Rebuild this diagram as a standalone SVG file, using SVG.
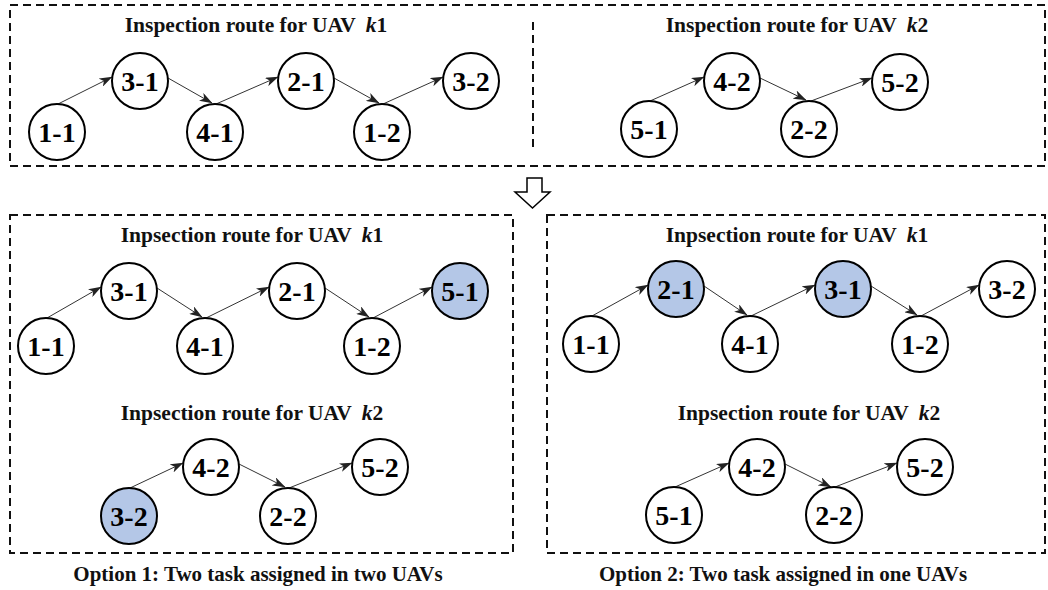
<svg xmlns="http://www.w3.org/2000/svg" width="1048" height="590" viewBox="0 0 1048 590">
<style>
.box{fill:none;stroke:#111;stroke-width:2;stroke-dasharray:8 5}
.nd{fill:#fff;stroke:#000;stroke-width:2}
.hl{fill:#b4c7e7;stroke:#000;stroke-width:2}
.lb{font-family:"Liberation Serif","Times New Roman",serif;font-weight:bold;font-size:28px;text-anchor:middle;fill:#000}
.tt{font-family:"Liberation Serif","Times New Roman",serif;font-weight:bold;font-size:21.5px;text-anchor:middle;fill:#111}
.cp{font-family:"Liberation Serif","Times New Roman",serif;font-weight:bold;font-size:21px;text-anchor:middle;fill:#111}
.ar{stroke:#333;stroke-width:1;fill:none;marker-end:url(#ah)}
.it{font-style:italic}
</style>
<defs>
<marker id="ah" viewBox="0 0 13 9" refX="12.5" refY="4.5" markerWidth="13" markerHeight="9" markerUnits="userSpaceOnUse" orient="auto">
<path d="M0,0 L13,4.5 L0,9 L3.5,4.5 z" fill="#222"/>
</marker>
</defs>
<rect width="1048" height="590" fill="#fff"/>
<g id="frames">
<rect class="box" x="10" y="5" width="1035" height="161"/>
<line class="box" x1="533" y1="22" x2="533" y2="152"/>
<rect class="box" x="10" y="215" width="503" height="338"/>
<rect class="box" x="547" y="215" width="498" height="338"/>
<polygon points="527,178 542,178 542,192 550,192 532.5,208 515,192 527,192" fill="#fff" stroke="#000" stroke-width="1.5"/>
</g>
<g id="titles">
<text class="tt" x="256" y="32">Inspection route for UAV <tspan dx="5" class="it">k</tspan>1</text>
<text class="tt" x="797" y="32">Inspection route for UAV <tspan dx="5" class="it">k</tspan>2</text>
<text class="tt" x="252" y="242">Inpsection route for UAV <tspan dx="5" class="it">k</tspan>1</text>
<text class="tt" x="252" y="420">Inpsection route for UAV <tspan dx="5" class="it">k</tspan>2</text>
<text class="tt" x="797" y="242">Inpsection route for UAV <tspan dx="5" class="it">k</tspan>1</text>
<text class="tt" x="809" y="420">Inpsection route for UAV <tspan dx="5" class="it">k</tspan>2</text>
<text class="cp" x="258" y="581">Option 1: Two task assigned in two UAVs</text>
<text class="cp" x="783" y="581">Option 2: Two task assigned in one UAVs</text>
</g>
<g id="connectors">
<line class="ar" x1="58" y1="104" x2="112" y2="77"/>
<line class="ar" x1="168" y1="78" x2="212" y2="103"/>
<line class="ar" x1="216" y1="104" x2="278" y2="77"/>
<line class="ar" x1="334" y1="78" x2="379" y2="103"/>
<line class="ar" x1="383" y1="104" x2="443" y2="77"/>
<line class="ar" x1="650" y1="101" x2="704" y2="77"/>
<line class="ar" x1="760" y1="78" x2="806" y2="100"/>
<line class="ar" x1="811" y1="101" x2="872" y2="78"/>
<line class="ar" x1="47" y1="318" x2="101" y2="287"/>
<line class="ar" x1="157" y1="288" x2="202" y2="317"/>
<line class="ar" x1="206" y1="318" x2="269" y2="287"/>
<line class="ar" x1="325" y1="288" x2="369" y2="317"/>
<line class="ar" x1="373" y1="318" x2="432" y2="287"/>
<line class="ar" x1="130" y1="488" x2="183" y2="463"/>
<line class="ar" x1="239" y1="464" x2="285" y2="487"/>
<line class="ar" x1="289" y1="488" x2="352" y2="463"/>
<line class="ar" x1="592" y1="316" x2="648" y2="285"/>
<line class="ar" x1="704" y1="286" x2="747" y2="315"/>
<line class="ar" x1="751" y1="316" x2="815" y2="285"/>
<line class="ar" x1="871" y1="286" x2="917" y2="315"/>
<line class="ar" x1="921" y1="316" x2="979" y2="285"/>
<line class="ar" x1="675" y1="487" x2="729" y2="463"/>
<line class="ar" x1="785" y1="464" x2="831" y2="487"/>
<line class="ar" x1="835" y1="487" x2="897" y2="463"/>
</g>
<g id="top-k1-1-1"><circle class="nd" cx="57" cy="132" r="28"/><text class="lb" x="57" y="142">1-1</text></g>
<g id="top-k1-3-1"><circle class="nd" cx="140" cy="81" r="28"/><text class="lb" x="140" y="91">3-1</text></g>
<g id="top-k1-4-1"><circle class="nd" cx="215" cy="132" r="28"/><text class="lb" x="215" y="142">4-1</text></g>
<g id="top-k1-2-1"><circle class="nd" cx="306" cy="81" r="28"/><text class="lb" x="306" y="91">2-1</text></g>
<g id="top-k1-1-2"><circle class="nd" cx="382" cy="132" r="28"/><text class="lb" x="382" y="142">1-2</text></g>
<g id="top-k1-3-2"><circle class="nd" cx="471" cy="81" r="28"/><text class="lb" x="471" y="91">3-2</text></g>
<g id="top-k2-5-1"><circle class="nd" cx="649" cy="129" r="28"/><text class="lb" x="649" y="139">5-1</text></g>
<g id="top-k2-4-2"><circle class="nd" cx="732" cy="81" r="28"/><text class="lb" x="732" y="91">4-2</text></g>
<g id="top-k2-2-2"><circle class="nd" cx="809" cy="129" r="28"/><text class="lb" x="809" y="139">2-2</text></g>
<g id="top-k2-5-2"><circle class="nd" cx="900" cy="82" r="28"/><text class="lb" x="900" y="92">5-2</text></g>
<g id="o1-k1-1-1"><circle class="nd" cx="46" cy="346" r="28"/><text class="lb" x="46" y="356">1-1</text></g>
<g id="o1-k1-3-1"><circle class="nd" cx="129" cy="291" r="28"/><text class="lb" x="129" y="301">3-1</text></g>
<g id="o1-k1-4-1"><circle class="nd" cx="205" cy="346" r="28"/><text class="lb" x="205" y="356">4-1</text></g>
<g id="o1-k1-2-1"><circle class="nd" cx="297" cy="291" r="28"/><text class="lb" x="297" y="301">2-1</text></g>
<g id="o1-k1-1-2"><circle class="nd" cx="372" cy="346" r="28"/><text class="lb" x="372" y="356">1-2</text></g>
<g id="o1-k1-5-1"><circle class="hl" cx="460" cy="291" r="28"/><text class="lb" x="460" y="301">5-1</text></g>
<g id="o1-k2-3-2"><circle class="hl" cx="129" cy="516" r="28"/><text class="lb" x="129" y="526">3-2</text></g>
<g id="o1-k2-4-2"><circle class="nd" cx="211" cy="467" r="28"/><text class="lb" x="211" y="477">4-2</text></g>
<g id="o1-k2-2-2"><circle class="nd" cx="288" cy="516" r="28"/><text class="lb" x="288" y="526">2-2</text></g>
<g id="o1-k2-5-2"><circle class="nd" cx="380" cy="467" r="28"/><text class="lb" x="380" y="477">5-2</text></g>
<g id="o2-k1-1-1"><circle class="nd" cx="591" cy="344" r="28"/><text class="lb" x="591" y="354">1-1</text></g>
<g id="o2-k1-2-1"><circle class="hl" cx="676" cy="289" r="28"/><text class="lb" x="676" y="299">2-1</text></g>
<g id="o2-k1-4-1"><circle class="nd" cx="750" cy="344" r="28"/><text class="lb" x="750" y="354">4-1</text></g>
<g id="o2-k1-3-1"><circle class="hl" cx="843" cy="289" r="28"/><text class="lb" x="843" y="299">3-1</text></g>
<g id="o2-k1-1-2"><circle class="nd" cx="920" cy="344" r="28"/><text class="lb" x="920" y="354">1-2</text></g>
<g id="o2-k1-3-2"><circle class="nd" cx="1007" cy="289" r="28"/><text class="lb" x="1007" y="299">3-2</text></g>
<g id="o2-k2-5-1"><circle class="nd" cx="674" cy="515" r="28"/><text class="lb" x="674" y="525">5-1</text></g>
<g id="o2-k2-4-2"><circle class="nd" cx="757" cy="467" r="28"/><text class="lb" x="757" y="477">4-2</text></g>
<g id="o2-k2-2-2"><circle class="nd" cx="834" cy="515" r="28"/><text class="lb" x="834" y="525">2-2</text></g>
<g id="o2-k2-5-2"><circle class="nd" cx="925" cy="467" r="28"/><text class="lb" x="925" y="477">5-2</text></g>
</svg>
